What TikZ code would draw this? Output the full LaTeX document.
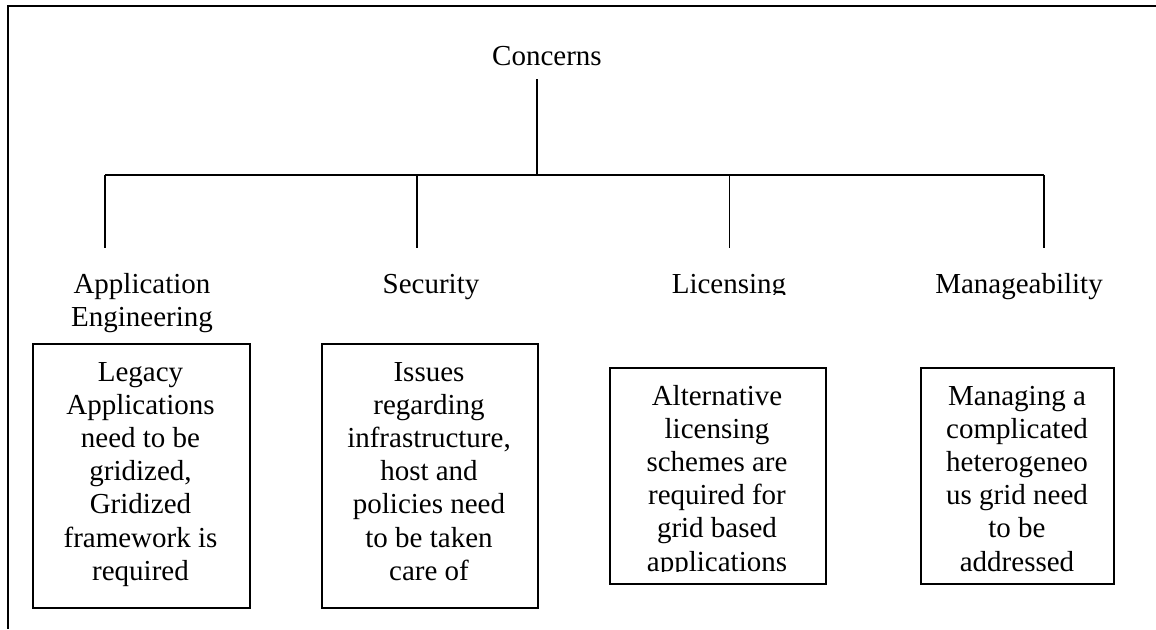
\documentclass[tikz,border=0pt]{standalone}
\usepackage{fontspec}
\setmainfont{Liberation Serif}
\newcommand{\dfont}{\fontsize{14.5pt}{16.6pt}\selectfont}
\begin{document}
\begin{tikzpicture}[x=0.5pt,y=-0.5pt,
  conn/.style={line width=0.7pt},
  frameline/.style={line width=1pt},
  boxnode/.style={draw, line width=0.8pt, inner sep=0pt, anchor=north west},
  lbl/.style={inner sep=0pt, anchor=base, font=\dfont},
  boxtext/.style={inner sep=0pt, anchor=base, font=\dfont}]
\useasboundingbox (0,0) rectangle (1156,629);
\fill[white] (0,0) rectangle (1156,629);
% frame
\draw[frameline] (1156,6) -- (7.7,6) -- (7.7,629);
% title and tree
\node[lbl] (concerns) at (547,65) {Concerns};
\coordinate (top) at (537,79);
\coordinate (hub) at (537,175);
\coordinate (barL) at (105,175);
\coordinate (barR) at (1044,175);
\coordinate (d1t) at (105,175);
\coordinate (d2t) at (417,175);
\coordinate (d3t) at (729.5,175);
\coordinate (d4t) at (1044,175);
\coordinate (d1b) at (105,248);
\coordinate (d2b) at (417,248);
\coordinate (d3b) at (729.5,248);
\coordinate (d4b) at (1044,248);
\draw[conn] (top) -- (hub);
\draw[conn] (barL) -- (barR);
\draw[conn] (d1t) -- (d1b);
\draw[conn] (d2t) -- (d2b);
\draw[conn] (d3t) -- (d3b);
\draw[conn] (d4t) -- (d4b);
% category labels
\node[lbl] (appeng) at (142,293) {\parbox[t]{100pt}{\centering Application\\Engineering}};
\node[lbl] (security) at (431,293) {Security};
\begin{scope}
\clip (600,240) rectangle (860,294);
\node[lbl] (licensing) at (729,293) {Licensing};
\end{scope}
\node[lbl] (manage) at (1019,293) {Manageability};
% boxes
\node[boxnode, minimum width=108.5pt, minimum height=132pt] (b1) at (32,343) {};
\node[boxnode, minimum width=108pt, minimum height=132pt] (b2) at (321,343) {};
\node[boxnode, minimum width=108pt, minimum height=108pt] (b3) at (609,367) {};
\node[boxnode, minimum width=96.5pt, minimum height=108pt] (b4) at (920,367) {};
% box texts
\node[boxtext] (t1) at (140.5,381) {\parbox[t]{105pt}{\centering Legacy\\Applications\\need to be\\gridized,\\Gridized\\framework is\\required}};
\node[boxtext] (t2) at (429,381) {\parbox[t]{105pt}{\centering Issues\\regarding\\infrastructure,\\host and\\policies need\\to be taken\\care of}};
\begin{scope}
\clip (609,367) rectangle (825,571.5);
\node[boxtext] (t3) at (717,405) {\parbox[t]{105pt}{\centering Alternative\\licensing\\schemes are\\required for\\grid based\\applications}};
\end{scope}
\node[boxtext] (t4) at (1017,405) {\parbox[t]{95pt}{\centering Managing a\\complicated\\heterogeneo\\us grid need\\to be\\addressed}};
\end{tikzpicture}
\end{document}
